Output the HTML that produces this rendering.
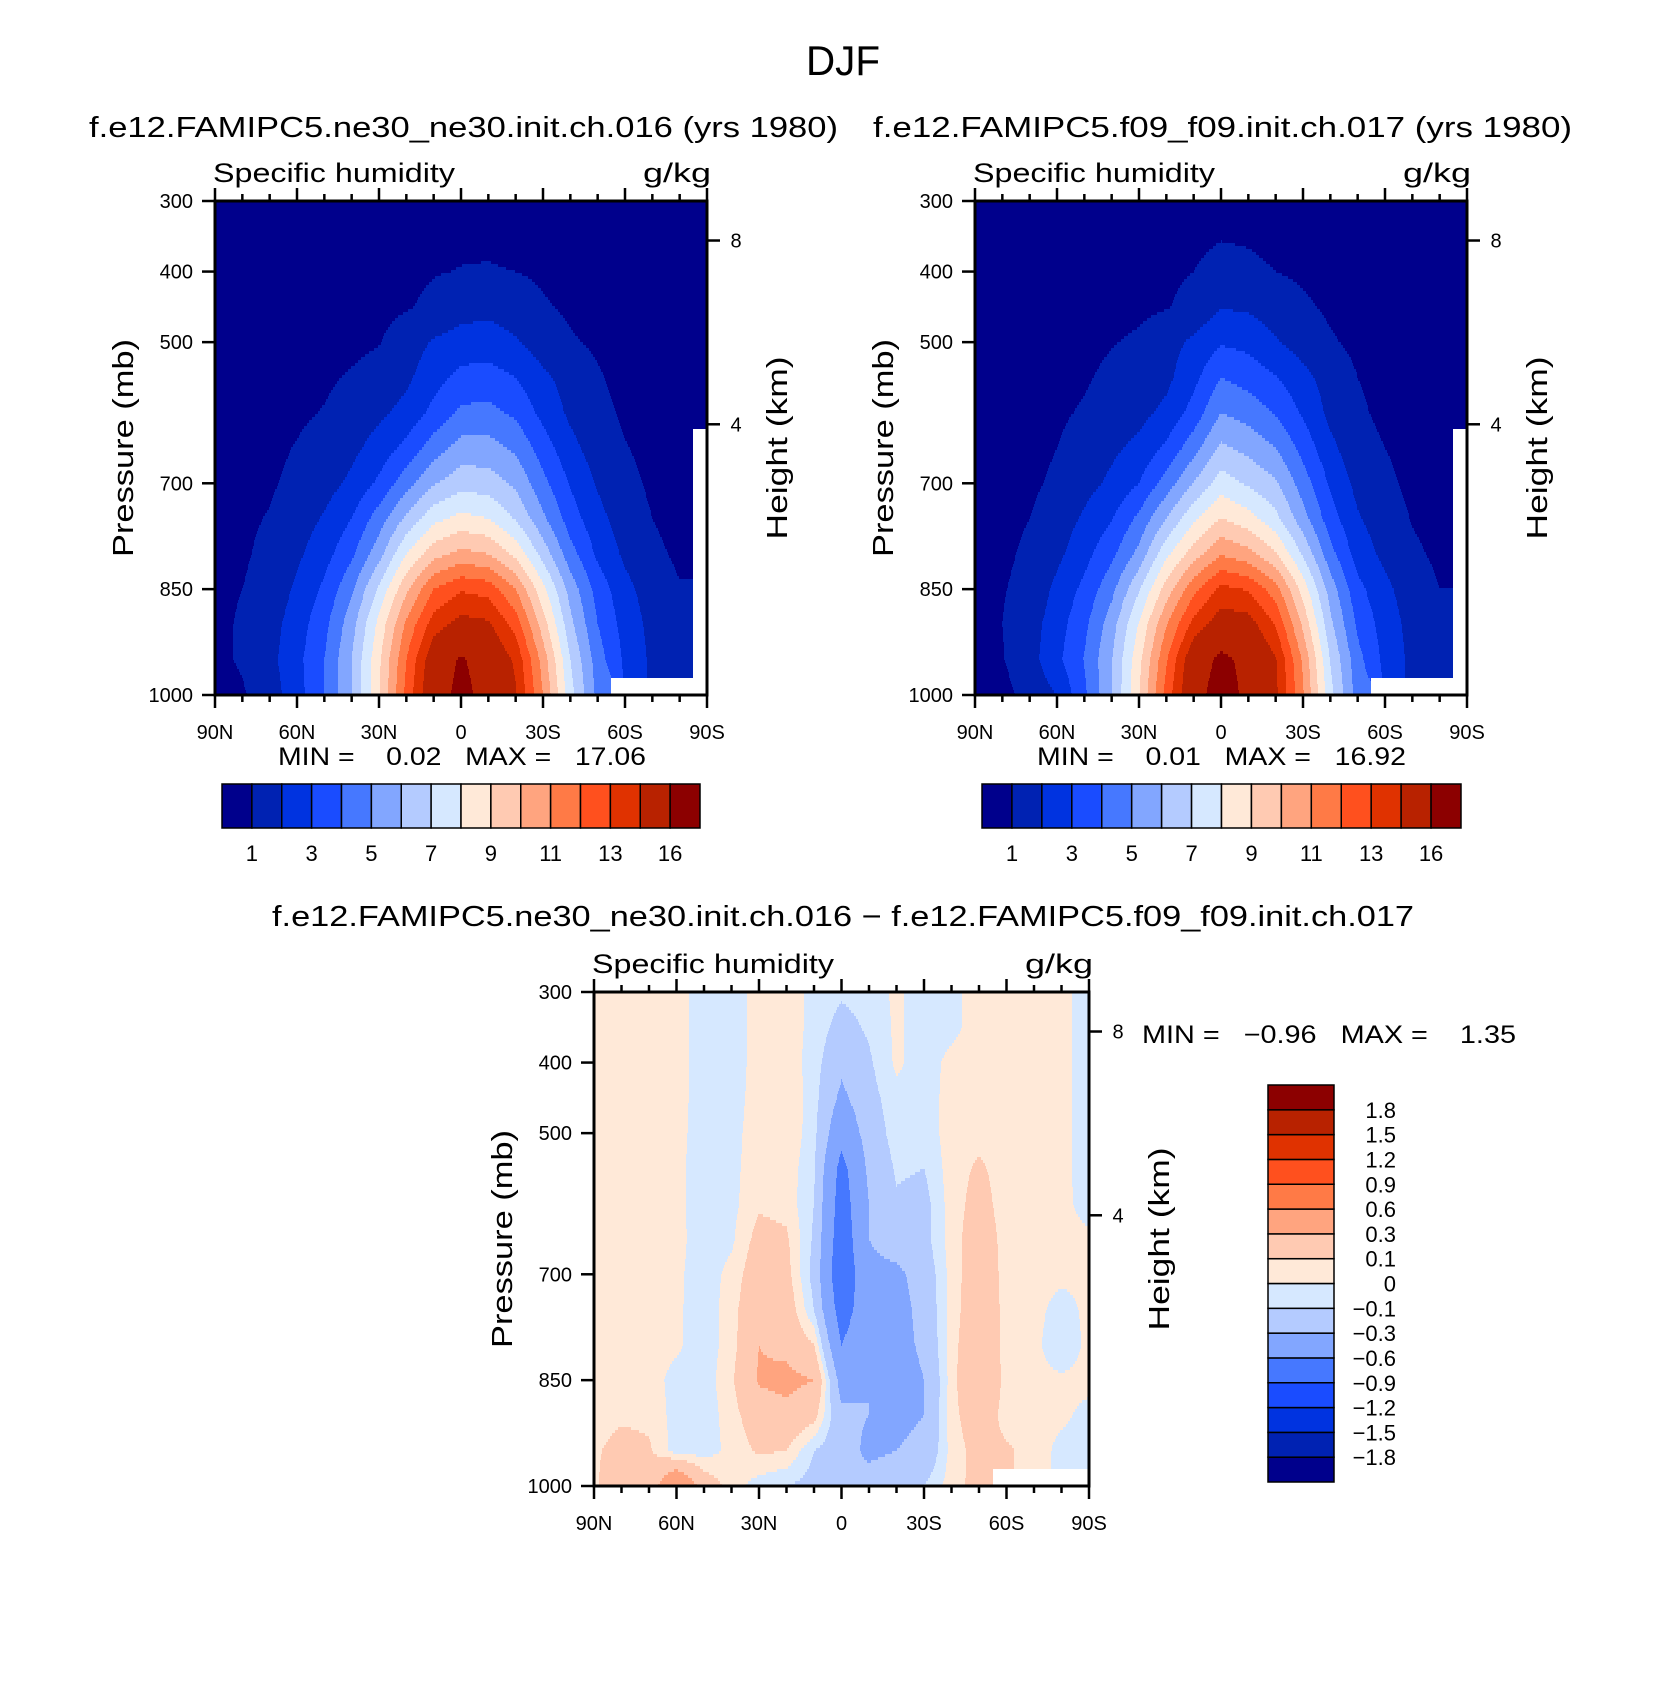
<!DOCTYPE html>
<html><head><meta charset="utf-8"><title>DJF Specific humidity</title>
<style>html,body{margin:0;padding:0;background:#fff}svg{display:block}text{font-family:"Liberation Sans",sans-serif;fill:#000;white-space:pre}</style>
</head><body>
<svg id="fig" xmlns="http://www.w3.org/2000/svg" width="1680" height="1683" viewBox="0 0 1680 1683"></svg>
<script>
// ---- data ----
const lats = [90,80,70,60,50,40,30,20,10,0,-10,-20,-30,-40,-50,-60,-70,-80,-90];
const levels = [300,350,400,450,500,550,600,650,700,750,800,850,900,950,1000];
const pTicks = [300,400,500,700,850,1000];
const latTickLabels = ['90N','60N','30N','0','30S','60S','90S'];
const latTicks = [90,60,30,0,-30,-60,-90];
const kmTicks = [8,4];
const absBounds = [1,2,3,4,5,6,7,8,9,10,11,12,13,14,16];
const absLabels = ['1','','3','','5','','7','','9','','11','','13','','16'];
const diffBounds = [-1.8,-1.5,-1.2,-0.9,-0.6,-0.3,-0.1,0,0.1,0.3,0.6,0.9,1.2,1.5,1.8];
const diffLabels = ['\u22121.8','\u22121.5','\u22121.2','\u22120.9','\u22120.6','\u22120.3','\u22120.1','0','0.1','0.3','0.6','0.9','1.2','1.5','1.8'];
const palette = ['#00008c','#0022b2','#0033e0','#1a4cff','#4678ff','#82a6ff','#b4cbff','#d6e8ff','#ffe9d8','#ffcab2','#ffa47f','#ff7a46','#ff501e','#e03200','#b82200','#8c0000'];
const q1 = [
[0.1,0.1,0.1,0.1,0.15,0.2,0.3,0.4,0.5,0.6,0.6,0.5,0.4,0.3,0.2,0.15,0.1,0.1,0.1],
[0.15,0.15,0.15,0.2,0.25,0.3,0.45,0.6,0.75,0.85,0.85,0.75,0.6,0.45,0.3,0.2,0.15,0.12,0.1],
[0.2,0.2,0.25,0.3,0.35,0.45,0.6,0.8,0.95,1.03,1.06,1.0,0.85,0.65,0.45,0.3,0.2,0.15,0.15],
[0.3,0.3,0.35,0.4,0.5,0.6,0.75,0.92,1.2,1.6,1.7,1.5,1.1,0.85,0.6,0.4,0.3,0.25,0.2],
[0.4,0.4,0.45,0.55,0.65,0.75,0.95,1.5,2.1,2.4,2.5,2.1,1.5,1.1,0.85,0.55,0.4,0.35,0.3],
[0.5,0.55,0.6,0.7,0.85,1.1,1.4,1.8,2.6,3.3,3.4,3.0,2.2,1.6,1.1,0.7,0.5,0.4,0.35],
[0.55,0.6,0.7,0.85,1.05,1.4,1.8,2.3,3.3,4.2,4.3,3.8,2.7,1.8,1.3,0.85,0.6,0.45,0.4],
[0.6,0.7,0.8,1.05,1.35,1.75,2.4,3.3,4.5,5.4,5.4,4.8,3.5,2.3,1.5,1.05,0.75,0.55,null],
[0.65,0.75,0.9,1.2,1.6,2.2,3.2,4.6,5.9,6.6,6.5,5.8,4.3,2.9,1.9,1.25,0.85,0.6,null],
[0.7,0.85,1.05,1.5,2.1,3.0,4.5,6.2,7.7,8.3,8.0,6.9,5.2,3.5,2.3,1.5,1.0,0.7,null],
[0.75,0.9,1.2,1.8,2.6,3.8,5.6,8.0,9.6,10.3,10.0,8.7,6.6,4.4,2.8,1.8,1.2,0.85,null],
[0.8,1.0,1.3,2.2,3.2,4.8,7.2,9.8,12.0,12.9,12.6,11.0,8.3,5.6,3.6,2.3,1.5,1.05,null],
[0.8,1.1,1.6,2.5,3.7,5.6,8.3,11.2,13.5,14.4,14.2,12.6,9.5,6.3,4.0,2.6,1.7,1.1,null],
[0.8,1.1,1.7,2.7,4.0,6.0,8.8,12.0,14.9,16.2,15.2,13.8,10.6,7.0,4.5,2.8,1.8,1.2,null],
[0.6,0.9,1.5,2.6,4.0,6.0,8.9,12.3,15.2,16.5,15.4,14.1,11.0,7.4,4.7,null,null,null,null]];
const q2 = [
[0.1,0.1,0.1,0.1,0.15,0.2,0.3,0.4,0.5,0.65,0.6,0.5,0.4,0.3,0.2,0.15,0.1,0.1,0.1],
[0.15,0.15,0.15,0.2,0.25,0.3,0.45,0.6,0.8,0.95,0.9,0.75,0.6,0.45,0.3,0.2,0.15,0.12,0.1],
[0.2,0.2,0.25,0.3,0.35,0.5,0.7,0.85,1.0,1.3,1.2,1.0,0.85,0.65,0.45,0.3,0.2,0.15,0.15],
[0.3,0.3,0.35,0.4,0.5,0.65,0.8,0.95,1.25,1.95,1.85,1.5,1.15,0.85,0.6,0.4,0.3,0.25,0.2],
[0.4,0.4,0.45,0.55,0.75,0.95,1.15,1.6,2.2,2.9,2.7,2.1,1.55,1.1,0.8,0.55,0.4,0.35,0.3],
[0.5,0.55,0.6,0.7,0.9,1.2,1.45,1.75,2.7,4.0,3.6,3.05,2.3,1.55,1.0,0.7,0.5,0.4,0.35],
[0.55,0.6,0.7,0.85,1.1,1.45,1.7,2.25,3.4,5.0,4.6,3.9,2.85,1.75,1.15,0.8,0.6,0.45,0.4],
[0.55,0.65,0.75,1.0,1.4,1.8,2.25,3.2,4.6,6.2,5.7,5.0,3.65,2.25,1.35,1.0,0.7,0.5,null],
[0.6,0.7,0.85,1.15,1.65,2.2,3.0,4.45,6.05,7.5,6.85,6.15,4.5,2.85,1.7,1.2,0.8,0.55,null],
[0.65,0.8,1.0,1.45,2.15,2.95,4.25,6.0,7.8,9.05,8.4,7.3,5.4,3.45,2.1,1.45,0.95,0.7,null],
[0.7,0.85,1.15,1.75,2.65,3.75,5.3,7.75,9.5,10.9,10.35,9.1,6.85,4.35,2.55,1.75,1.15,0.85,null],
[0.75,0.95,1.25,2.25,3.25,4.7,6.9,9.45,11.7,13.3,12.9,11.45,8.6,5.55,3.3,2.25,1.45,1.0,null],
[0.75,1.0,1.55,2.55,3.75,5.55,8.1,10.95,13.35,14.65,14.5,12.95,9.8,6.25,3.8,2.55,1.65,1.1,null],
[0.7,0.95,1.6,2.75,4.05,5.95,8.7,11.9,15.0,16.4,15.55,14.1,10.85,6.95,4.35,2.7,1.75,1.2,null],
[0.5,0.7,1.35,2.0,3.8,5.95,8.95,12.4,15.35,16.8,15.6,14.25,11.1,7.35,4.55,null,null,null,null]];
const qd = [
[0.05,0.05,0.05,0.04,-0.05,-0.04,0.03,0.05,-0.03,-0.08,-0.05,0.02,-0.05,-0.03,0.05,0.04,0.05,0.03,-0.05],
[0.05,0.05,0.05,0.04,-0.05,-0.05,0.04,0.05,-0.03,-0.15,-0.08,0.02,-0.05,-0.03,0.05,0.04,0.05,0.03,-0.05],
[0.05,0.05,0.05,0.04,-0.05,-0.05,0.04,0.05,-0.04,-0.25,-0.12,0.02,-0.05,0.03,0.05,0.04,0.05,0.03,-0.05],
[0.05,0.06,0.05,0.04,-0.05,-0.05,0.05,0.08,-0.05,-0.35,-0.15,-0.03,-0.05,0.04,0.05,0.04,0.05,0.03,-0.05],
[0.05,0.06,0.05,0.04,-0.06,-0.04,0.06,0.08,-0.06,-0.5,-0.2,-0.04,-0.06,0.05,0.06,0.05,0.05,0.03,-0.05],
[0.05,0.06,0.05,0.03,-0.06,-0.03,0.06,0.06,-0.08,-0.7,-0.25,-0.08,-0.1,0.05,0.12,0.05,0.05,0.03,-0.05],
[0.05,0.06,0.05,0.03,-0.06,-0.03,0.08,0.06,-0.1,-0.75,-0.3,-0.12,-0.15,0.05,0.15,0.05,0.05,0.03,-0.04],
[0.05,0.06,0.05,0.03,-0.05,-0.02,0.15,0.12,-0.12,-0.8,-0.3,-0.2,-0.15,0.05,0.18,0.06,0.05,0.03,0.02],
[0.05,0.06,0.05,0.02,-0.05,0.03,0.2,0.15,-0.15,-0.85,-0.35,-0.35,-0.2,0.04,0.2,0.06,0.05,0.03,0.03],
[0.05,0.06,0.05,0.02,-0.06,0.05,0.25,0.2,-0.1,-0.75,-0.4,-0.4,-0.22,0.04,0.22,0.06,0.04,-0.05,0.03],
[0.05,0.06,0.05,0.02,-0.06,0.05,0.3,0.25,0.1,-0.6,-0.35,-0.4,-0.25,0.05,0.25,0.05,0.03,-0.08,0.03],
[0.05,0.06,0.05,-0.04,-0.06,0.08,0.32,0.35,0.3,-0.4,-0.3,-0.45,-0.3,0.05,0.3,0.05,0.03,0.02,0.03],
[0.05,0.08,0.07,-0.04,-0.06,0.05,0.2,0.25,0.15,-0.25,-0.3,-0.35,-0.3,0.06,0.2,0.05,0.04,0.02,-0.03],
[0.08,0.15,0.12,-0.05,-0.05,0.03,0.12,0.1,-0.1,-0.2,-0.35,-0.3,-0.25,0.04,0.15,0.12,0.05,-0.03,-0.03],
[0.08,0.2,0.15,0.6,0.2,0.05,-0.05,-0.1,-0.15,-0.3,-0.2,-0.15,-0.1,0.05,0.15,null,null,null,null]];

// ---- helpers ----
const NS='http://www.w3.org/2000/svg';
const svg=document.getElementById('fig');
function mk(tag,parent){const e=document.createElementNS(NS,tag);(parent||svg).appendChild(e);return e;}
function txt(parent,x,y,s,size,anchor,name){const t=mk('text',parent);t.setAttribute('x',x);t.setAttribute('y',y);t.setAttribute('font-size',size);if(anchor)t.setAttribute('text-anchor',anchor);t.style.whiteSpace='pre';t.textContent=s;


return t;}
function fit(t,len){t.setAttribute('textLength',len);t.setAttribute('lengthAdjust','spacingAndGlyphs');}
function colorFor(v,bounds){if(v===null)return '#ffffff';let i=0;while(i<bounds.length&&v>=bounds[i])i++;return palette[i];}
function kmToP(h){return 1013.25*Math.pow(1-2.25577e-5*h*1000,5.25588);}
function sample(grid,fx,fy){
  const nx=lats.length-1, ny=levels.length-1;
  const ri=Math.round(fy), ci=Math.round(fx);
  if(grid[ri][ci]===null) return null;
  const i0=Math.min(Math.floor(fy),ny-1), j0=Math.min(Math.floor(fx),nx-1);
  const ty=fy-i0, tx=fx-j0;
  let s=0,w=0;
  [[i0,j0,(1-ty)*(1-tx)],[i0,j0+1,(1-ty)*tx],[i0+1,j0,ty*(1-tx)],[i0+1,j0+1,ty*tx]].forEach(([a,b,ww])=>{const v=grid[a][b];if(v!==null&&ww>0){s+=v*ww;w+=ww;}});
  return w>0?s/w:grid[ri][ci];
}

function panel(o){
  const g=mk('g');
  
  
  const X=lat=>o.x0+(90-lat)/180*(o.x1-o.x0);
  const Y=p=>o.y0+(p-300)/700*(o.y1-o.y0);
  const fg=mk('g',g);
  
  
  const step=3;
  const W=o.x1-o.x0, H=o.y1-o.y0;
  for(let py=0;py<H;py+=step){
    const pc=300+(py+step/2)/H*700;
    const fy=Math.min(Math.max((pc-levels[0])/50,0),levels.length-1);
    let runStart=0, runCol=null;
    for(let px=0;px<=W;px+=1){
      let col=null;
      if(px<W){const latc=90-(px+0.5)/W*180;const fx=(90-latc)/10;col=colorFor(sample(o.grid,fx,fy),o.bounds);}
      if(col!==runCol){
        if(runCol!==null){const r=mk('rect',fg);r.setAttribute('x',o.x0+runStart);r.setAttribute('y',o.y0+py);r.setAttribute('width',px-runStart+0.6);r.setAttribute('height',Math.min(step,H-py)+0.6);r.setAttribute('fill',runCol);
          
          }
        runStart=px;runCol=col;
      }
    }
  }
  const fr=mk('rect',g);fr.setAttribute('x',o.x0);fr.setAttribute('y',o.y0);fr.setAttribute('width',W);fr.setAttribute('height',H);fr.setAttribute('fill','none');fr.setAttribute('stroke','#000');fr.setAttribute('stroke-width','3');
  
  
  const ax=mk('g',g);ax.setAttribute('stroke','#000');
  
  
  function line(x1,y1,x2,y2,w){const l=mk('line',ax);l.setAttribute('x1',x1);l.setAttribute('y1',y1);l.setAttribute('x2',x2);l.setAttribute('y2',y2);l.setAttribute('stroke-width',w||2.5);}
  for(let lat=90;lat>=-90;lat-=10){const major=lat%30===0;const len=major?13:7;const x=X(lat);line(x,o.y1,x,o.y1+len);line(x,o.y0,x,o.y0-len);}
  latTicks.forEach((lat,i)=>txt(g,X(lat),o.y1+44,latTickLabels[i],20,'middle','x-tick-label'));
  pTicks.forEach(p=>{line(o.x0-13,Y(p),o.x0,Y(p));txt(g,o.x0-22,Y(p)+7,String(p),20,'end','y-tick-label');});
  kmTicks.forEach(k=>{const y=Y(kmToP(k));line(o.x1,y,o.x1+13,y);txt(g,o.x1+29,y+7,String(k),20,'middle','height-tick-label');});
  const yl=txt(g,0,0,'Pressure (mb)',29,'middle','y-axis-title');yl.setAttribute('transform',`translate(${o.x0-92},${(o.y0+o.y1)/2}) rotate(-90)`);yl.setAttribute('dy','10');fit(yl,218);
  const hl=txt(g,0,0,'Height (km)',29,'middle','height-axis-title');hl.setAttribute('transform',`translate(${o.x1+70},${(o.y0+o.y1)/2}) rotate(-90)`);hl.setAttribute('dy','10');fit(hl,183);
  const sl=txt(g,o.x0-2,o.y0-19,'Specific humidity',27,'start','variable-label');fit(sl,242);
  const ul=txt(g,o.x1+4,o.y0-19,'g/kg',27,'end','units-label');fit(ul,68);
  return g;
}
function hbar(x0,x1,y0,y1,bounds,labels,name){
  const g=mk('g');
  
  
  const n=palette.length, w=(x1-x0)/n;
  palette.forEach((c,i)=>{const r=mk('rect',g);r.setAttribute('x',x0+i*w);r.setAttribute('y',y0);r.setAttribute('width',w);r.setAttribute('height',y1-y0);r.setAttribute('fill',c);r.setAttribute('stroke','#000');r.setAttribute('stroke-width','1.5');
    
    });
  bounds.forEach((b,i)=>{if(labels[i])txt(g,x0+(i+1)*w,y1+33,labels[i],22,'middle','colorbar-label');});
}
function vbar(x0,x1,y0,y1,bounds,labels,name){
  const g=mk('g');
  
  
  const n=palette.length, h=(y1-y0)/n;
  palette.forEach((c,i)=>{const r=mk('rect',g);r.setAttribute('x',x0);r.setAttribute('y',y1-(i+1)*h);r.setAttribute('width',x1-x0);r.setAttribute('height',h);r.setAttribute('fill',c);r.setAttribute('stroke','#000');r.setAttribute('stroke-width','1.5');
    
    });
  bounds.forEach((b,i)=>txt(g,x1+62,y1-(i+1)*h+8,labels[i],22,'end','colorbar-label'));
}

// ---- build ----
let t=txt(svg,843,75,'DJF',42,'middle','figure-title');fit(t,74);
t=txt(svg,89,137,'f.e12.FAMIPC5.ne30_ne30.init.ch.016 (yrs 1980)',29,'start','left-panel-title');fit(t,749);
t=txt(svg,873,137,'f.e12.FAMIPC5.f09_f09.init.ch.017 (yrs 1980)',29,'start','right-panel-title');fit(t,699);
panel({name:'panel-ne30',x0:215,x1:707,y0:201,y1:695,grid:q1,bounds:absBounds});
panel({name:'panel-f09',x0:975,x1:1467,y0:201,y1:695,grid:q2,bounds:absBounds});
t=txt(svg,278,765,'MIN =    0.02   MAX =   17.06',25,'start','min-max-left');fit(t,368);
t=txt(svg,1037,765,'MIN =    0.01   MAX =   16.92',25,'start','min-max-right');fit(t,369);
hbar(222,700,784,828,absBounds,absLabels,'colorbar-left');
hbar(982,1461,784,828,absBounds,absLabels,'colorbar-right');
t=txt(svg,272,926,'f.e12.FAMIPC5.ne30_ne30.init.ch.016 \u2212 f.e12.FAMIPC5.f09_f09.init.ch.017',29,'start','difference-title');fit(t,1142);
panel({name:'panel-difference',x0:594,x1:1089,y0:992,y1:1486,grid:qd,bounds:diffBounds});
t=txt(svg,1142,1043,'MIN =   \u22120.96   MAX =    1.35',25,'start','min-max-difference');fit(t,374);
vbar(1268,1334,1085,1482,diffBounds,diffLabels,'colorbar-difference');
</script>
</body></html>
